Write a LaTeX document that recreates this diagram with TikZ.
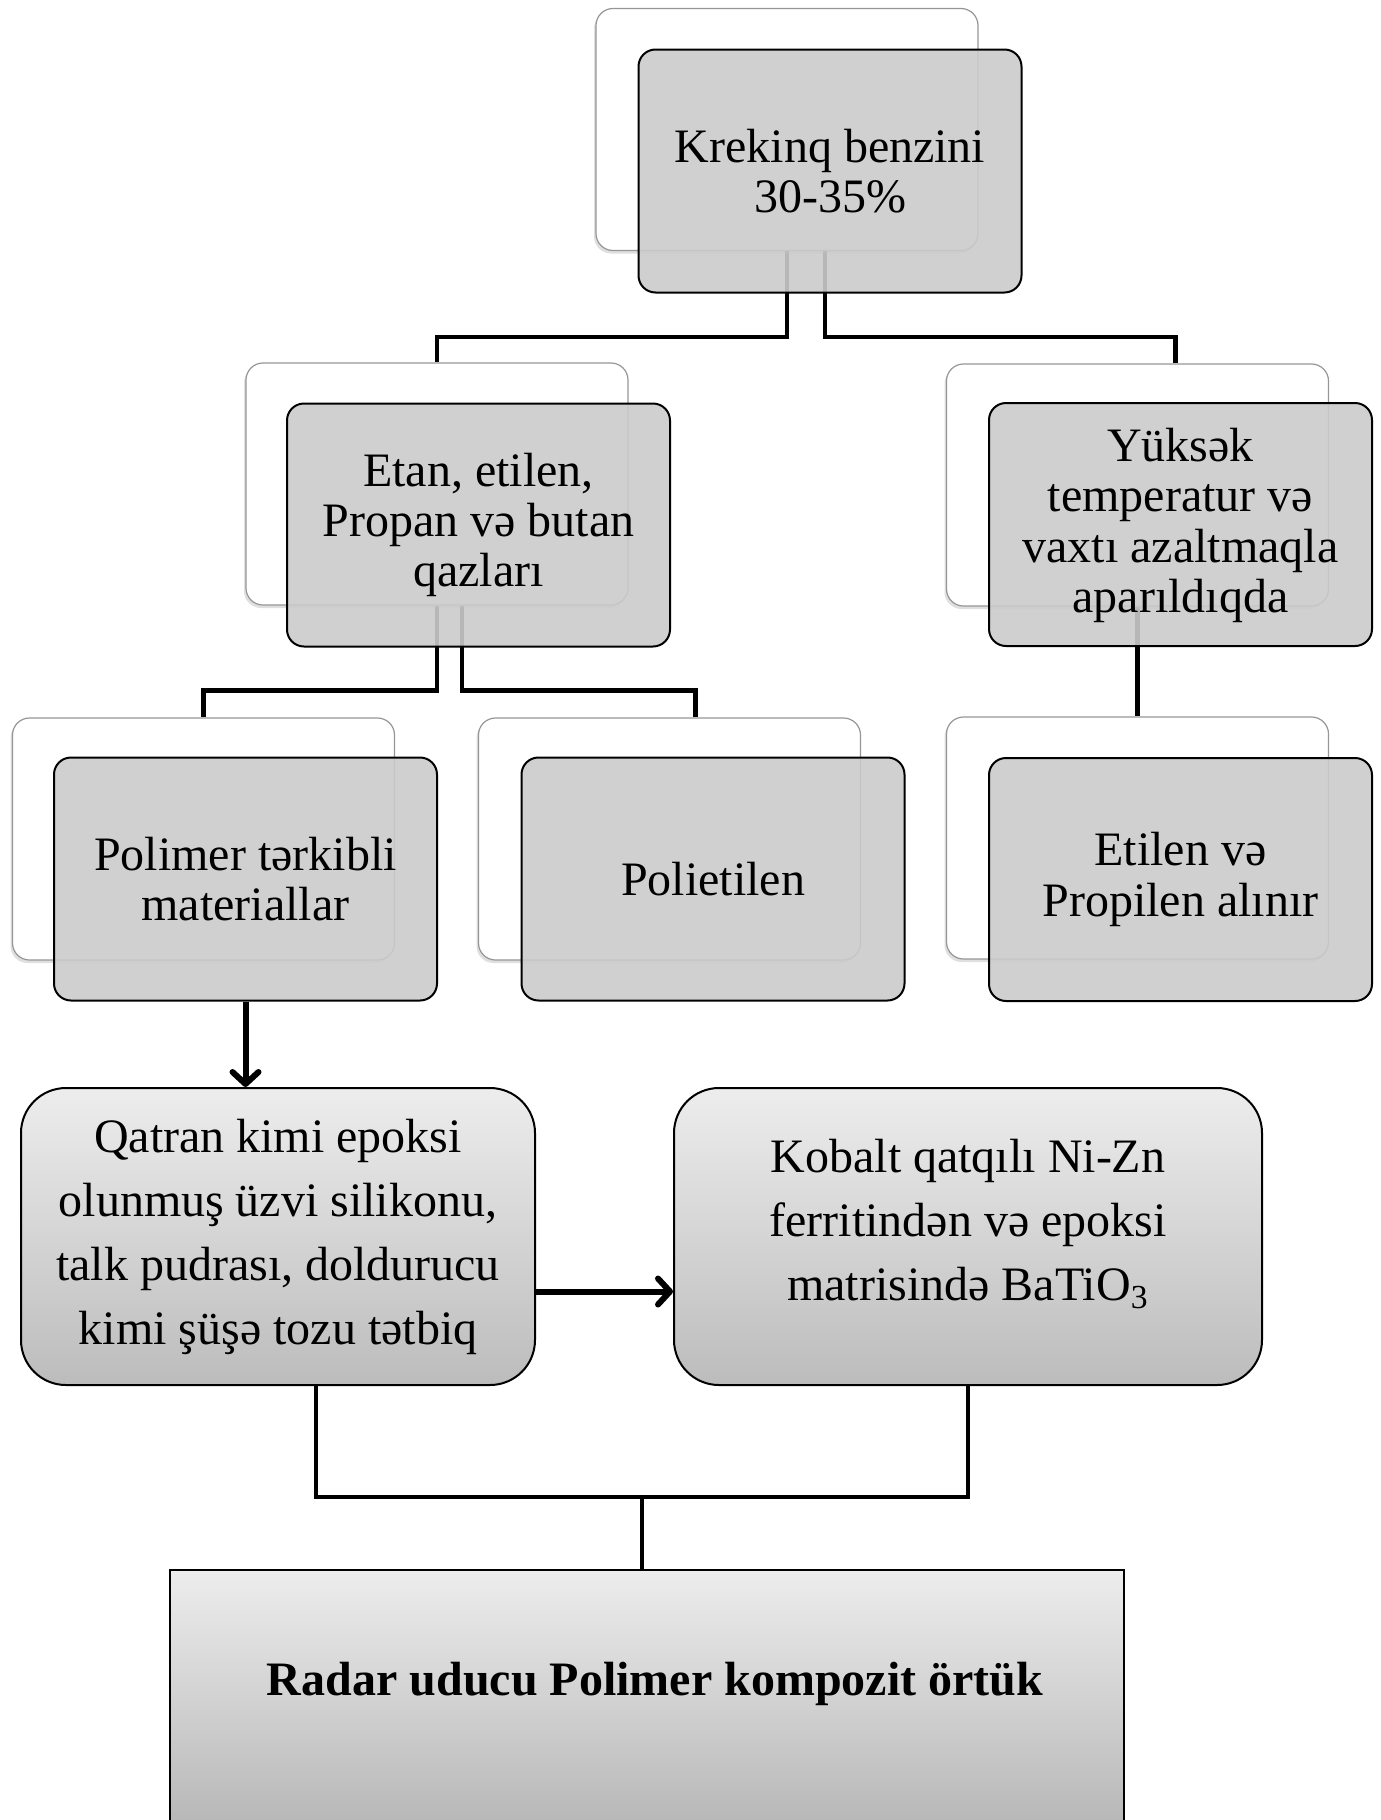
\documentclass[tikz,border=0pt]{standalone}
\usepackage{fontspec}
\setmainfont{Liberation Serif}
\usetikzlibrary{arrows.meta,shadows,calc}
\pgfdeclarelayer{bg}
\pgfsetlayers{bg,main}
\definecolor{boxgray}{RGB}{203,203,203}
\definecolor{gradtop}{RGB}{237,237,237}
\definecolor{gradbot}{RGB}{188,188,188}
\definecolor{gradbotb}{RGB}{180,180,180}
\definecolor{outl}{RGB}{150,150,150}
\newcommand\boxfont{\fontsize{24}{25.2}\selectfont}
\newcommand\gradfont{\fontsize{24}{32}\selectfont}
\newcommand\finalfont{\fontsize{24}{25}\selectfont\bfseries}
\tikzset{
 backbox/.style={draw=outl, line width=0.6pt, fill=white, rounded corners=8.5pt,
   minimum width=191pt, minimum height=121pt, inner sep=0pt,
   drop shadow={shadow xshift=-1pt, shadow yshift=-1.5pt, opacity=0.25}},
 frontbox/.style={draw=black, line width=1pt, fill=boxgray, fill opacity=0.9, text opacity=1,
   rounded corners=8.5pt, minimum width=191.5pt, minimum height=121.5pt,
   align=center, inner sep=0pt, font=\boxfont},
 gradbox/.style={draw=black, line width=1pt, top color=gradtop, bottom color=gradbot,
   rounded corners=22.5pt, minimum height=148.5pt, align=center, font=\gradfont, inner sep=0pt},
 conn/.style={line width=2.3pt},
 arr/.style={line width=3pt, -{Straight Barb[length=6pt,width=13pt,round]}},
}
\begin{document}
\begin{tikzpicture}[x=0.5pt,y=-0.5pt]
\useasboundingbox (0,0) rectangle (1381,1820);
% back boxes
\node[backbox] (topW) at (787,129.5) {};
\node[backbox] (r2lW) at (437,484) {};
\node[backbox] (r2rW) at (1137.5,485) {};
\node[backbox] (r3lW) at (203.5,839) {};
\node[backbox] (r3mW) at (669.5,839) {};
\node[backbox] (r3rW) at (1137.5,838) {};
% front boxes
\node[frontbox] (topG) at (830,171) {Krekinq benzini\\30-35\%};
\node[frontbox] (r2lG) at (478.5,525) {Etan, etilen,\\Propan və butan\\qazları};
\node[frontbox] (r2rG) at (1180.5,524.5) {\raisebox{-7.5pt}[0pt][0pt]{\begin{tabular}{@{}c@{}}Yüksək\\temperatur və\\vaxtı azaltmaqla\\aparıldıqda\end{tabular}}};
\node[frontbox] (r3lG) at (245.5,879) {Polimer tərkibli\\materiallar};
\node[frontbox] (r3mG) at (713,879) {Polietilen};
\node[frontbox] (r3rG) at (1180.5,879.5) {Etilen və\\Propilen alınır};
% gradient boxes
\node[gradbox, minimum width=257pt] (qatran) at (278,1236.5)
  {Qatran kimi epoksi\\olunmuş üzvi silikonu,\\talk pudrası, doldurucu\\kimi şüşə tozu tətbiq};
\node[gradbox, minimum width=294pt] (kobalt) at (968,1236.5)
  {\raisebox{0pt}[0pt][0pt]{\begin{tabular}{@{}c@{}}Kobalt qatqılı Ni-Zn\\ferritindən və epoksi\\matrisində BaTiO\textsubscript{3}\end{tabular}}};
\node[draw=black, line width=0.8pt, top color=gradtop, bottom color=gradbotb,
  minimum width=477pt, minimum height=135pt, inner sep=0pt] (final) at (647,1705) {};
\node[font=\finalfont, inner sep=0pt] (finaltxt) at (655,1684) {Radar uducu Polimer kompozit örtük};
% connectors
\begin{pgfonlayer}{bg}
\draw[conn] (topW.south) -- ++(0,86) -| (r2lW.north);
\draw[conn] ([xshift=19pt]topW.south) -- ++(0,86) -| ([xshift=19pt]r2rW.north);
\draw[conn] (r2lW.south) -- ++(0,85) -| (r3lW.north);
\draw[conn] ([xshift=12.5pt]r2lW.south) -- ++(0,85) -| ([xshift=13pt]r3mW.north);
\draw[conn] (r2rW.south) -- (r3rW.north);
\end{pgfonlayer}
\draw[arr] (r3lG.south) -- (r3lG.south |- qatran.north);
\draw[arr] ([yshift=-27.5pt]qatran.east) -- ([yshift=-27.5pt]kobalt.west);
\draw[conn] ([xshift=19pt]qatran.south) -- ++(0,111) -| (kobalt.south);
\coordinate (jn) at ($([xshift=19pt]qatran.south)!0.5!(kobalt.south)+(0,111)$);
\draw[conn] (jn) -- (jn |- final.north);
\end{tikzpicture}
\end{document}
